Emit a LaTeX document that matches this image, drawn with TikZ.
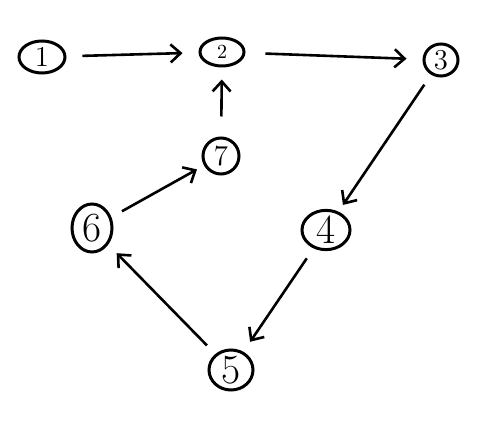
\documentclass[tikz,border=0pt]{standalone}
\usepackage{tikz}
\usetikzlibrary{arrows.meta,shapes.geometric}

\begin{document}
\begin{tikzpicture}[
  x=0.5pt, y=-0.5pt,
  >={Straight Barb[length=5pt,width=9pt]},
  vertex/.style={
    draw,
    ellipse,
    line width=1.5pt,
    inner sep=0pt,
    font=\Large
  },
  link/.style={
    ->,
    line width=1.3pt,
    shorten <=10pt,
    shorten >=8pt
  }
]
  \useasboundingbox (0,0) rectangle (488,427);

  % --- vertices ---
  \node[vertex, minimum width=23pt, minimum height=16pt] (n1) at (42,57) {1};
  \node[vertex, minimum width=22pt, minimum height=14pt, font=\normalsize] (n2) at (222,52) {2};
  \node[vertex, minimum width=17pt, minimum height=16pt] (n3) at (441,60) {3};
  \node[vertex, minimum width=18pt, minimum height=18pt] (n7) at (221,156) {7};
  \node[vertex, minimum width=20pt, minimum height=24pt, font=\huge] (n6) at (92,228) {6};
  \node[vertex, minimum width=24pt, minimum height=19pt, font=\huge] (n4) at (326,230) {4};
  \node[vertex, minimum width=22pt, minimum height=20pt, font=\huge] (n5) at (231,370) {5};

  % --- connectors ---
  \draw[link, shorten <=8pt] (n1) -- (n2);
  \draw[link] (n2) -- (n3);
  \draw[link, shorten <=10pt, shorten >=6pt] (n7) -- (n2);
  \draw[link, shorten <=6pt, shorten >=4pt] (n6) -- (n7);
  \draw[link, shorten <=6pt, shorten >=4pt] (n3) -- (n4);
  \draw[link, shorten <=6pt, shorten >=6pt] (n4) -- (n5);
  \draw[link, shorten <=6pt, shorten >=6pt] (n5) -- (n6);

\end{tikzpicture}
\end{document}
